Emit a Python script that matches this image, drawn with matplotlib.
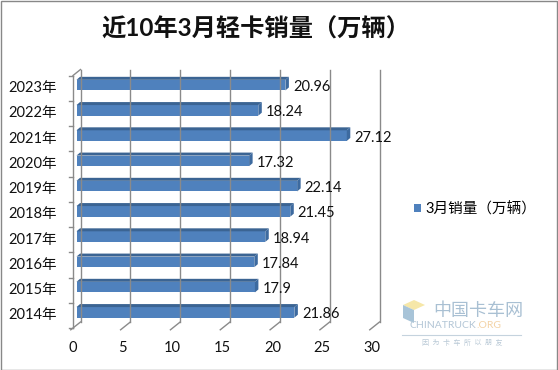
import matplotlib
matplotlib.use("Agg")
import numpy as np
import matplotlib.pyplot as plt
from matplotlib.patches import Polygon, Rectangle, Patch
from matplotlib.transforms import offset_copy

plt.rcParams['font.family'] = ['Lato', 'Noto Sans CJK SC', 'DejaVu Sans']

# data
years = ['2014年', '2015年', '2016年', '2017年', '2018年',
         '2019年', '2020年', '2021年', '2022年', '2023年']
sales = [21.86, 17.9, 17.84, 18.94, 21.45, 22.14, 17.32, 27.12, 18.24, 20.96]
xticks = [0, 5, 10, 15, 20, 25, 30]
title = '近10年3月轻卡销量（万辆）'
series_name = '3月销量（万辆）'

W, H = 558, 370
fig = plt.figure(figsize=(W / 100, H / 100), dpi=100)
ax = fig.add_axes([73 / W, 42 / H, 299 / W, 252.5 / H])
ax.set_xlim(0, 30)
ax.set_ylim(-0.5, len(years) - 0.5)
ax.axis('off')

# pixel -> data scale, for the fake 3d depth
p0 = ax.transData.transform([0, 0])
p1 = ax.transData.transform([1, 1])
ppx, ppy = p1 - p0
wall_dx, wall_dy = 7.5 / ppx, 6 / ppy
bar_dx, bar_dy = 3.5 / ppx, 3 / ppy

grid_col = '#8a8a8a'
ytop = len(years) - 0.5

# back wall gridlines + floor diagonals
for xv in xticks:
    ax.plot([xv + wall_dx, xv + wall_dx], [-0.5 + wall_dy, ytop + wall_dy],
            color=grid_col, lw=1.0, clip_on=False)
    ax.plot([xv - 0.3 * wall_dx, xv + wall_dx], [-0.5 - 0.3 * wall_dy, -0.5 + wall_dy],
            color=grid_col, lw=1.0, clip_on=False)
    ax.annotate(str(xv), (xv, -0.5), xytext=(0, -20), textcoords='offset pixels',
                ha='center', va='center', fontsize=10.5, color='#111111')

# left wall
ax.plot([0, 0], [-0.5, ytop], color=grid_col, lw=1.0, clip_on=False)
ax.plot([0, wall_dx], [ytop, ytop + wall_dy], color=grid_col, lw=1.0, clip_on=False)
for k in range(len(years) + 1):
    ax.plot([-4 / ppx, 0], [k - 0.5, k - 0.5], color=grid_col, lw=1.0, clip_on=False)

for i, lab in enumerate(years):
    ax.annotate(lab, (0, i), xytext=(-16, 0), textcoords='offset pixels',
                ha='right', va='center', fontsize=10.5, color='#111111')

# bars
h = 0.42
face = '#4f81bd'
top = '#3b6493'
side = '#3d6a9f'
for i, v in enumerate(sales):
    x0, y0 = bar_dx, i - h / 2 + bar_dy
    y1 = y0 + h
    ax.add_patch(Rectangle((x0, y0), v, h, facecolor=face, edgecolor='none', clip_on=False))
    ax.add_patch(Polygon([(x0, y1), (x0 + v, y1), (x0 + v + bar_dx, y1 + bar_dy),
                          (x0 + bar_dx, y1 + bar_dy)],
                         facecolor=top, edgecolor='none', clip_on=False))
    ax.add_patch(Polygon([(x0 + v, y0), (x0 + v + bar_dx, y0 + bar_dy),
                          (x0 + v + bar_dx, y1 + bar_dy), (x0 + v, y1)],
                         facecolor=side, edgecolor='none', clip_on=False))
    ax.annotate(f'{v:g}', (v, i), xytext=(11, 1), textcoords='offset pixels',
                ha='left', va='center', fontsize=10.5, color='#111111')

fig.text(256 / W, 1 - 29 / H, title, ha='center', va='center',
         fontsize=17.5, fontweight='bold', color='#111111')

fig.legend(handles=[Patch(facecolor=face, edgecolor='none')], labels=[series_name],
           loc='center left', bbox_to_anchor=(414 / W, 1 - 209 / H), frameon=False,
           fontsize=10.5, handlelength=0.5, handleheight=0.5, handletextpad=0.3,
           borderaxespad=0, borderpad=0)

# watermark
fig.text(478 / W, 1 - 311 / H, '中国卡车网', ha='center', va='center',
         fontsize=13, color='#a9c0d3')
fig.text(476 / W, 1 - 326 / H, 'CHINATRUCK', ha='right', va='center',
         fontsize=7.5, color='#b3c6d6')
fig.text(476 / W, 1 - 326 / H, '.ORG', ha='left', va='center',
         fontsize=7.5, color='#f3d3a6')
fig.lines.append(plt.Line2D([402 / W, 521 / W], [1 - 335 / H, 1 - 335 / H],
                            transform=fig.transFigure, color='#c5d3de', lw=0.8))
fig.text(462 / W, 1 - 342 / H, '因  为  卡  车  所  以  朋  友', ha='center', va='center',
         fontsize=5, color='#b9c9d6')
fig.patches.append(Polygon([(403 / W, 1 - 305 / H), (414 / W, 1 - 300 / H),
                            (425 / W, 1 - 305 / H), (414 / W, 1 - 310 / H)],
                           closed=True, transform=fig.transFigure,
                           facecolor='#f6e7a8', edgecolor='none'))
fig.patches.append(Polygon([(403 / W, 1 - 305 / H), (414 / W, 1 - 310 / H),
                            (414 / W, 1 - 323 / H), (403 / W, 1 - 318 / H)],
                           closed=True, transform=fig.transFigure,
                           facecolor='#a8c4d8', edgecolor='none'))

fig.patches.append(Rectangle((0.5 / W, 0.5 / H), 1 - 1.5 / W, 1 - 1.5 / H,
                             transform=fig.transFigure, fill=False,
                             edgecolor='#888888', lw=1.0))

fig.savefig('out.png', dpi=100)
